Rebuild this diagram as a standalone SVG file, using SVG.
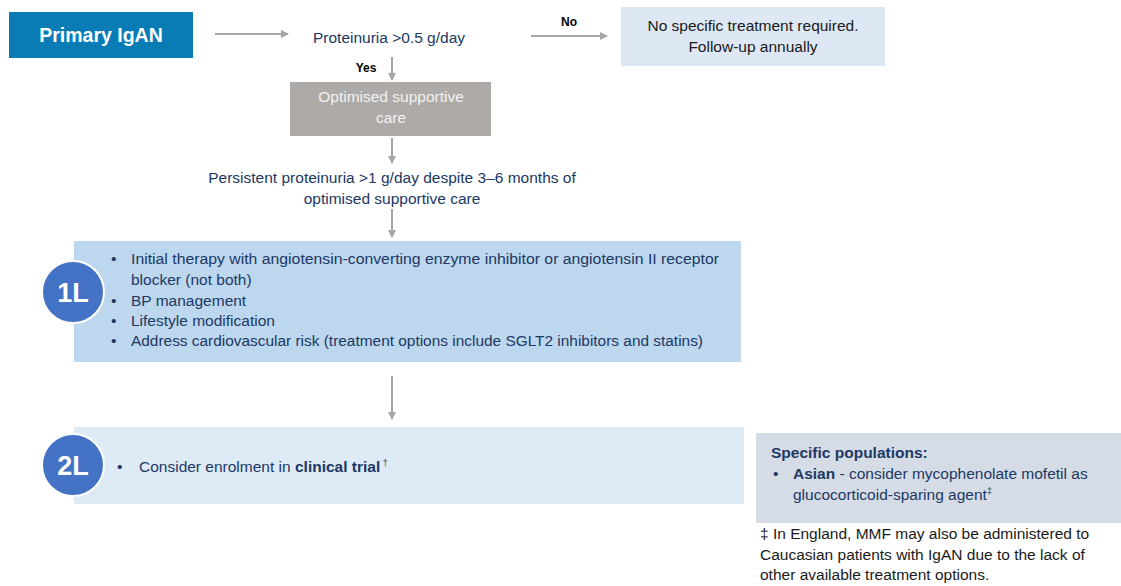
<svg xmlns="http://www.w3.org/2000/svg" width="1121" height="586" viewBox="0 0 1121 586">
<defs>
<marker id="ah" markerWidth="8" markerHeight="8" refX="7" refY="4" orient="auto" markerUnits="userSpaceOnUse">
<path d="M0,0 L8,4 L0,8 Z" fill="#a6a6a6"/>
</marker>
<style>
text{font-family:"Liberation Sans",Arial,sans-serif;}
.navy{fill:#203864;font-size:15.5px;}
.blk{fill:#1a1a1a;font-size:15.5px;}
.lbl{fill:#000;font-size:12px;font-weight:bold;}
.conn{stroke:#a6a6a6;stroke-width:2;fill:none;marker-end:url(#ah);}
.circ{fill:#4472c4;stroke:#fff;stroke-width:2;}
.ctext{fill:#fff;font-size:27px;font-weight:bold;}
</style>
</defs>
<rect width="1121" height="586" fill="#fff"/>

<g id="primary">
<rect x="9" y="12" width="184" height="46" fill="#0a7cb5"/>
<text x="101" y="42" text-anchor="middle" fill="#fff" font-size="19.5" font-weight="bold">Primary IgAN</text>
</g>

<g id="proteinuria">
<text class="navy" x="389" y="43" text-anchor="middle">Proteinuria &gt;0.5 g/day</text>
</g>

<g id="noTreatment">
<rect x="621" y="7" width="264" height="59" fill="#dde8f4"/>
<text class="blk" x="753" y="31" text-anchor="middle">No specific treatment required.</text>
<text class="blk" x="753" y="52" text-anchor="middle">Follow-up annually</text>
</g>

<g id="supportive">
<rect x="290" y="82" width="201" height="54" fill="#aeaaa8"/>
<text x="391" y="102" text-anchor="middle" fill="#f2f2f2" font-size="15.5">Optimised supportive</text>
<text x="391" y="123" text-anchor="middle" fill="#f2f2f2" font-size="15.5">care</text>
</g>

<g id="persistent">
<text class="navy" x="392" y="183" text-anchor="middle">Persistent proteinuria &gt;1 g/day despite 3–6 months of</text>
<text class="navy" x="392" y="204" text-anchor="middle">optimised supportive care</text>
</g>

<g id="firstLine">
<rect x="74" y="241" width="667" height="121" fill="#bdd7ee"/>
<g class="navy">
<text x="111" y="264">•</text>
<text x="131" y="264" textLength="588" lengthAdjust="spacingAndGlyphs">Initial therapy with angiotensin-converting enzyme inhibitor or angiotensin II receptor</text>
<text x="131" y="285">blocker (not both)</text>
<text x="111" y="306">•</text>
<text x="131" y="306">BP management</text>
<text x="111" y="326">•</text>
<text x="131" y="326">Lifestyle modification</text>
<text x="111" y="346">•</text>
<text x="131" y="346" textLength="572" lengthAdjust="spacingAndGlyphs">Address cardiovascular risk (treatment options include SGLT2 inhibitors and statins)</text>
</g>
<circle class="circ" cx="73" cy="292" r="31"/>
<text class="ctext" x="73" y="302" text-anchor="middle">1L</text>
</g>

<g id="secondLine">
<rect x="74" y="427" width="670" height="77" fill="#deeaf6"/>
<text class="navy" x="117" y="472">•</text>
<text class="navy" x="139" y="472">Consider enrolment in <tspan font-weight="bold">clinical trial</tspan><tspan font-size="9" dy="-6"> †</tspan></text>
<circle class="circ" cx="73" cy="465" r="31"/>
<text class="ctext" x="73" y="475" text-anchor="middle">2L</text>
</g>

<g id="specific">
<rect x="756" y="433" width="365" height="90" fill="#d6dce5"/>
<text class="navy" x="771" y="458" font-weight="bold">Specific populations:</text>
<text class="navy" x="773" y="479">•</text>
<text class="navy" x="793" y="479"><tspan font-weight="bold">Asian</tspan> - consider mycophenolate mofetil as</text>
<text class="navy" x="793" y="500">glucocorticoid-sparing agent<tspan font-size="9" dy="-6">‡</tspan></text>
</g>

<g id="footnote">
<text class="blk" x="760" y="539">‡ In England, MMF may also be administered to</text>
<text class="blk" x="760" y="560">Caucasian patients with IgAN due to the lack of</text>
<text class="blk" x="760" y="580">other available treatment options.</text>
</g>

<g id="connectors">
<line class="conn" x1="215" y1="34" x2="288" y2="34"/>
<line class="conn" x1="531" y1="36" x2="607" y2="36"/>
<text class="lbl" x="569" y="26" text-anchor="middle">No</text>
<line class="conn" x1="392" y1="57" x2="392" y2="80"/>
<text class="lbl" x="366" y="72" text-anchor="middle">Yes</text>
<line class="conn" x1="392" y1="138" x2="392" y2="163"/>
<line class="conn" x1="392" y1="209" x2="392" y2="237"/>
<line class="conn" x1="392" y1="376" x2="392" y2="419"/>
</g>
</svg>
